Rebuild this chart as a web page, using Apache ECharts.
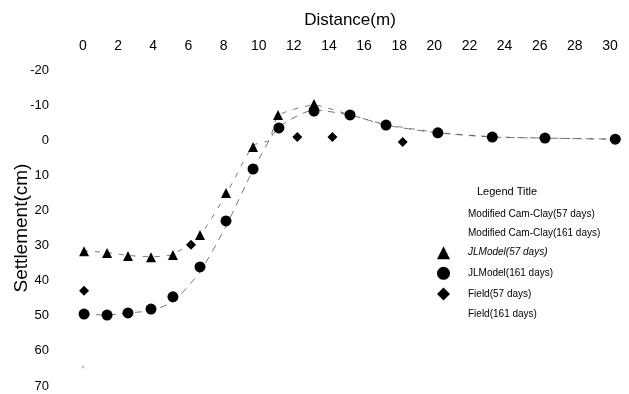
<!DOCTYPE html>
<html>
<head>
<meta charset="utf-8">
<script src="https://cdn.jsdelivr.net/npm/echarts@6/dist/echarts.min.js"></script>
<style>
html,body{margin:0;padding:0;background:#fff;}
#chart{width:629px;height:394px;}
</style>
</head>
<body>
<div id="chart"></div>
<script>
// ---- data (distance in m, settlement in cm) ----
const xTicks = [0, 2, 4, 6, 8, 10, 12, 14, 16, 18, 20, 22, 24, 26, 28, 30];
const yTicks = [-20, -10, 0, 10, 20, 30, 40, 50, 60, 70];

const camClay57 = [[0,31.5],[1.37,32],[2.56,32.8],[3.87,33.2],[5.12,32.5],[6.66,27],[8.14,15.5],[9.68,1.5],[10.6,0],[11.1,-7],[13.15,-10],[15.2,-7.2],[17.25,-4.5],[20.2,-2.2],[23.3,-1],[26.3,-0.6],[30.3,-0.3]];
const camClay161 = [[0,49.5],[1.37,49.8],[2.56,49.2],[3.87,48.5],[5.12,46],[6.66,37.5],[8.14,24.5],[9.68,8.5],[11.1,-3.5],[13.15,-8.6],[15.2,-7.2],[17.25,-4.3],[20.2,-2.1],[23.3,-0.9],[26.3,-0.6],[30.3,-0.3]];
const jlModel57 = [[0.06,31.6],[1.37,32.1],[2.56,33.0],[3.87,33.3],[5.12,32.7],[6.66,27.0],[8.14,15.0],[9.68,1.9],[11.1,-7.2],[13.15,-10.3]];
const jlModel161 = [[0.06,49.5],[1.37,49.8],[2.56,49.2],[3.87,48.1],[5.12,44.6],[6.66,36.1],[8.14,23.0],[9.68,8.2],[11.15,-3.5],[13.15,-8.3],[15.2,-7.2],[17.25,-4.3],[20.2,-2.1],[23.3,-0.9],[26.3,-0.6],[30.3,-0.3]];
const field57 = [[0.06,42.9],[6.15,29.8],[12.2,-0.9],[14.2,-0.9],[18.2,0.5]];
const field161 = [[0,64.6]];

const names = ['Modified Cam-Clay(57 days)','Modified Cam-Clay(161 days)','JLModel(57 days)','JLModel(161 days)','Field(57 days)','Field(161 days)'];

const chart = echarts.init(document.getElementById('chart'), null, {renderer:'canvas'});
const numFont = "'Liberation Sans Narrow', 'Arial Narrow', Arial, sans-serif";
const txtFont = "'Liberation Sans', Arial, sans-serif";
chart.setOption({
  backgroundColor: '#fff',
  animation: false,
  title: [
    {text: 'Distance(m)', left: 345, top: 7, textAlign: 'center',
     textStyle: {fontFamily: txtFont, fontSize: 17, fontWeight: 'normal', color: '#000'}},
    {text: 'Legend Title', left: 502, top: 181, textAlign: 'center',
     textStyle: {fontFamily: txtFont, fontSize: 11, fontWeight: 'normal', color: '#000'}}
  ],
  grid: {left: 83, right: 19, top: 70, bottom: 8, containLabel: false, outerBoundsMode: 'none'},
  legend: {
    orient: 'vertical', left: 432, top: 203, itemWidth: 13, itemHeight: 13, itemGap: 7.6,
    textStyle: {fontFamily: txtFont, fontSize: 10, color: '#000', padding: [0, 0, 0, 13]},
    data: [
      {name: names[0], icon: 'none'},
      {name: names[1], icon: 'none'},
      {name: names[2], icon: 'triangle', textStyle: {fontStyle: 'italic'}},
      {name: names[3], icon: 'circle'},
      {name: names[4], icon: 'diamond'},
      {name: names[5], icon: 'none'}
    ]
  },
  xAxis: {
    type: 'value', position: 'top', min: 0, max: 30, interval: 2,
    axisLine: {show: false}, axisTick: {show: false}, splitLine: {show: false},
    axisLabel: {margin: 17, fontFamily: numFont, fontSize: 14, color: '#000',
      formatter: v => xTicks.indexOf(v) >= 0 ? String(v) : ''}
  },
  yAxis: {
    type: 'value', inverse: true, min: -20, max: 70, interval: 10,
    name: 'Settlement(cm)', nameLocation: 'middle', nameRotate: 90, nameGap: 52, nameMoveOverlap: false,
    nameTextStyle: {fontFamily: txtFont, fontSize: 19, color: '#000'},
    axisLine: {show: false}, axisTick: {show: false}, splitLine: {show: false},
    axisLabel: {margin: 34, fontFamily: numFont, fontSize: 13, color: '#000',
      formatter: v => yTicks.indexOf(v) >= 0 ? String(v) : ''}
  },
  series: [
    {name: names[0], type: 'line', data: camClay57, showSymbol: false, smooth: 0.2, z: 1,
     itemStyle: {color: '#555'}, lineStyle: {color: '#555', width: 0.8, type: [5, 7]}},
    {name: names[1], type: 'line', data: camClay161, showSymbol: false, smooth: 0.2, z: 1,
     itemStyle: {color: '#555'}, lineStyle: {color: '#555', width: 0.8, type: [7, 6]}},
    {name: names[2], type: 'scatter', data: jlModel57, symbol: 'triangle', symbolSize: 10, clip: false, z: 3,
     itemStyle: {color: '#000', opacity: 1}},
    {name: names[3], type: 'scatter', data: jlModel161, symbol: 'circle', symbolSize: 11, clip: false, z: 3,
     itemStyle: {color: '#000', opacity: 1}},
    {name: names[4], type: 'scatter', data: field57, symbol: 'diamond', symbolSize: 10, clip: false, z: 3,
     itemStyle: {color: '#000', opacity: 1}},
    {name: names[5], type: 'scatter', data: field161, symbol: 'circle', symbolSize: 3, clip: false, z: 2,
     itemStyle: {color: '#c8c8c8', opacity: 1}}
  ]
});
</script>
</body>
</html>
